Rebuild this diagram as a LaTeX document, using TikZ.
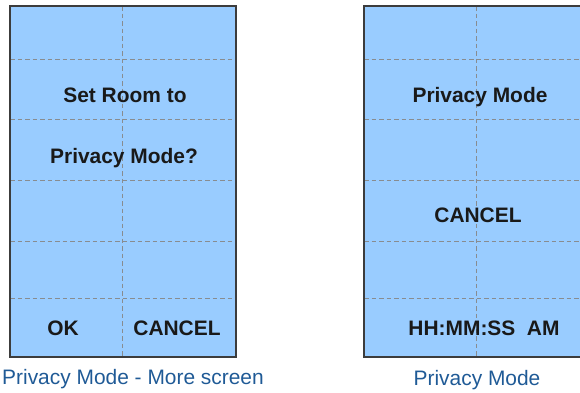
\documentclass[tikz,border=0pt]{standalone}
\usepackage{fontspec}
\setmainfont{Liberation Sans}
\definecolor{screenblue}{HTML}{99CCFF}
\definecolor{gridgray}{HTML}{888C90}
\definecolor{framegray}{HTML}{3C3C3C}
\definecolor{captionblue}{HTML}{1F5A96}

\begin{document}
\begin{tikzpicture}[
  x=1bp, y=-1bp,
  screen/.style={fill=screenblue, draw=framegray, line width=1.2bp},
  frame only/.style={draw=framegray, line width=1.3bp},
  grid line/.style={draw=gridgray, line width=1bp, dash pattern=on 4.5bp off 3bp},
  screen text/.style={font=\bfseries\fontsize{21}{25}\selectfont, anchor=base, inner sep=0pt, text=black!90},
  caption/.style={font=\fontsize{21}{25}\selectfont, anchor=base, inner sep=0pt, text=captionblue}
]
\useasboundingbox (0,0) rectangle (580,392);
\clip (0,0) rectangle (580,392);

% the two screens
\foreach \left/\mid in {10/122, 364/476} {
  \fill[screenblue] (\left,6) rectangle ++(226,351);
  \foreach \y in {59,119,180,241,298}
    \draw[grid line] (\left,\y) -- ++(226,0);
  \draw[grid line] (\mid,6) -- (\mid,357);
  \draw[frame only] (\left,6) rectangle ++(226,351);
}

% left screen
\node[screen text] (setRoom) at (125,102) {Set Room to};
\node[screen text] (privacyQ) at (124,163) {Privacy Mode?};
\node[screen text] (ok) at (63,335) {OK};
\node[screen text] (cancelA) at (177,335) {CANCEL};

% right screen
\node[screen text] (title) at (480,102) {Privacy Mode};
\node[screen text] (cancelB) at (478,222) {CANCEL};
\node[screen text] (clock) at (484,335) {HH:MM:SS\ \ AM};

% captions
\node[caption] (captionA) at (133,384) {Privacy Mode - More screen};
\node[caption] (captionB) at (477,385) {Privacy Mode};
\end{tikzpicture}
\end{document}
